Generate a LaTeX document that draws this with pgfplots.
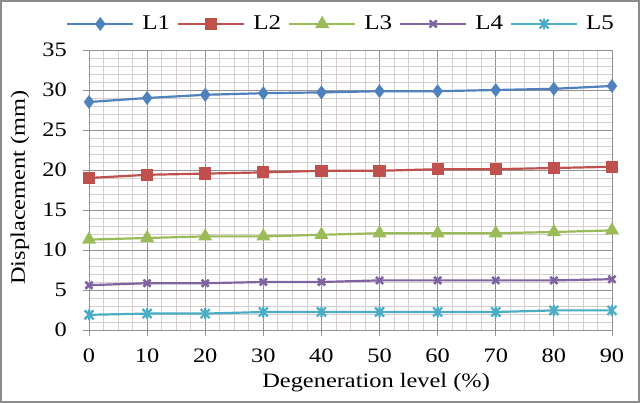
\documentclass[border=0pt]{standalone}
\usepackage{fontspec}
\setmainfont{Liberation Serif}[FakeStretch=1.19]
\usepackage{pgfplots}
\pgfplotsset{compat=1.18}
\definecolor{cL1}{HTML}{4F81BD}
\definecolor{cL2}{HTML}{C0504D}
\definecolor{cL3}{HTML}{9BBB59}
\definecolor{cL4}{HTML}{8064A2}
\definecolor{cL5}{HTML}{4BACC6}
\definecolor{gmaj}{RGB}{150,144,144}
\definecolor{gmin}{RGB}{212,206,206}
\definecolor{frame}{RGB}{140,140,140}
\pgfdeclareplotmark{xstar}{%
  \pgfpathmoveto{\pgfqpoint{-\pgfplotmarksize}{-\pgfplotmarksize}}%
  \pgfpathlineto{\pgfqpoint{\pgfplotmarksize}{\pgfplotmarksize}}%
  \pgfpathmoveto{\pgfqpoint{-\pgfplotmarksize}{\pgfplotmarksize}}%
  \pgfpathlineto{\pgfqpoint{\pgfplotmarksize}{-\pgfplotmarksize}}%
  \pgfpathmoveto{\pgfqpoint{0pt}{-1.2\pgfplotmarksize}}%
  \pgfpathlineto{\pgfqpoint{0pt}{1.2\pgfplotmarksize}}%
  \pgfusepathqstroke}
\begin{document}
\fontsize{20.5bp}{24bp}\selectfont
\begin{tikzpicture}
\useasboundingbox (0,0) rectangle (640bp,403bp);
\fill[white] (0,0) rectangle (640bp,403bp);
\begin{axis}[
  scale only axis,
  width=523bp, height=280bp,
  at={(89bp,73bp)}, anchor=south west,
  xmin=0, xmax=90, ymin=0, ymax=35,
  xtick={0,10,...,90}, ytick={0,5,...,35},
  minor x tick num=3, minor y tick num=4,
  grid=both,
  major grid style={gmaj, line width=0.9bp},
  minor grid style={gmin, line width=0.8bp},
  axis line style={gmaj, line width=0.9bp},
  tick style={gmaj, line width=0.9bp},
  major tick length=6bp,
  minor tick length=0pt,
  tick align=outside,
  xtick pos=bottom, ytick pos=left,
  /pgf/number format/assume math mode=true,
  tick label style={font=\fontsize{20.5bp}{24bp}\selectfont, inner sep=0pt},
  yticklabel style={anchor=east, xshift=-16bp},
  xticklabel style={anchor=north, yshift=-13bp},
  xlabel={Degeneration level (\%)},
  ylabel={Displacement (mm)},
  label style={font=\fontsize{20.5bp}{24bp}\selectfont},
  xlabel style={at={(axis description cs:0.549,-0.189)}, anchor=center},
  ylabel style={at={(axis description cs:-0.132,0.509)}, anchor=center, rotate=0},
  legend columns=5,
  legend style={draw=none, fill=none, at={(axis description cs:-0.044,1.093)}, anchor=west,
    inner xsep=0pt, inner ysep=0pt,
    font=\fontsize{21bp}{24bp}\selectfont,
    /tikz/every odd column/.append style={column sep=5bp},
    /tikz/every even column/.append style={column sep=4bp},
    nodes={inner xsep=3bp, inner ysep=0pt}},
  legend image code/.code={%
    \draw[mark repeat=2, mark phase=2] plot coordinates {(0bp,0bp) (33bp,0bp) (66bp,0bp)};},
  every axis plot/.append style={line width=2.2bp},
]
\addplot[cL1, mark=diamond*, mark size=5.2bp] coordinates {
(0,28.5) (10,29.0) (20,29.4) (30,29.6) (40,29.7) (50,29.85) (60,29.85) (70,30.0) (80,30.15) (90,30.5)};
\addlegendentry{L1}
\addplot[cL2, mark=square*, mark size=5bp] coordinates {
(0,19.0) (10,19.4) (20,19.55) (30,19.7) (40,19.9) (50,19.9) (60,20.1) (70,20.1) (80,20.25) (90,20.4)};
\addlegendentry{L2}
\addplot[cL3, mark=triangle*, mark size=6bp] coordinates {
(0,11.3) (10,11.5) (20,11.7) (30,11.7) (40,11.9) (50,12.1) (60,12.1) (70,12.1) (80,12.25) (90,12.45)};
\addlegendentry{L3}
\addplot[cL4, mark=x, mark size=5bp, mark options={line width=2.6bp}] coordinates {
(0,5.6) (10,5.85) (20,5.85) (30,6.0) (40,6.0) (50,6.2) (60,6.2) (70,6.2) (80,6.2) (90,6.35)};
\addlegendentry{L4}
\addplot[cL5, mark=xstar, mark size=4.5bp, mark options={line width=2.2bp}] coordinates {
(0,1.9) (10,2.05) (20,2.05) (30,2.25) (40,2.25) (50,2.25) (60,2.25) (70,2.25) (80,2.45) (90,2.45)};
\addlegendentry{L5}
\end{axis}
\draw[frame, line width=2bp] (1bp,1bp) rectangle (639bp,402bp);
\end{tikzpicture}
\end{document}
